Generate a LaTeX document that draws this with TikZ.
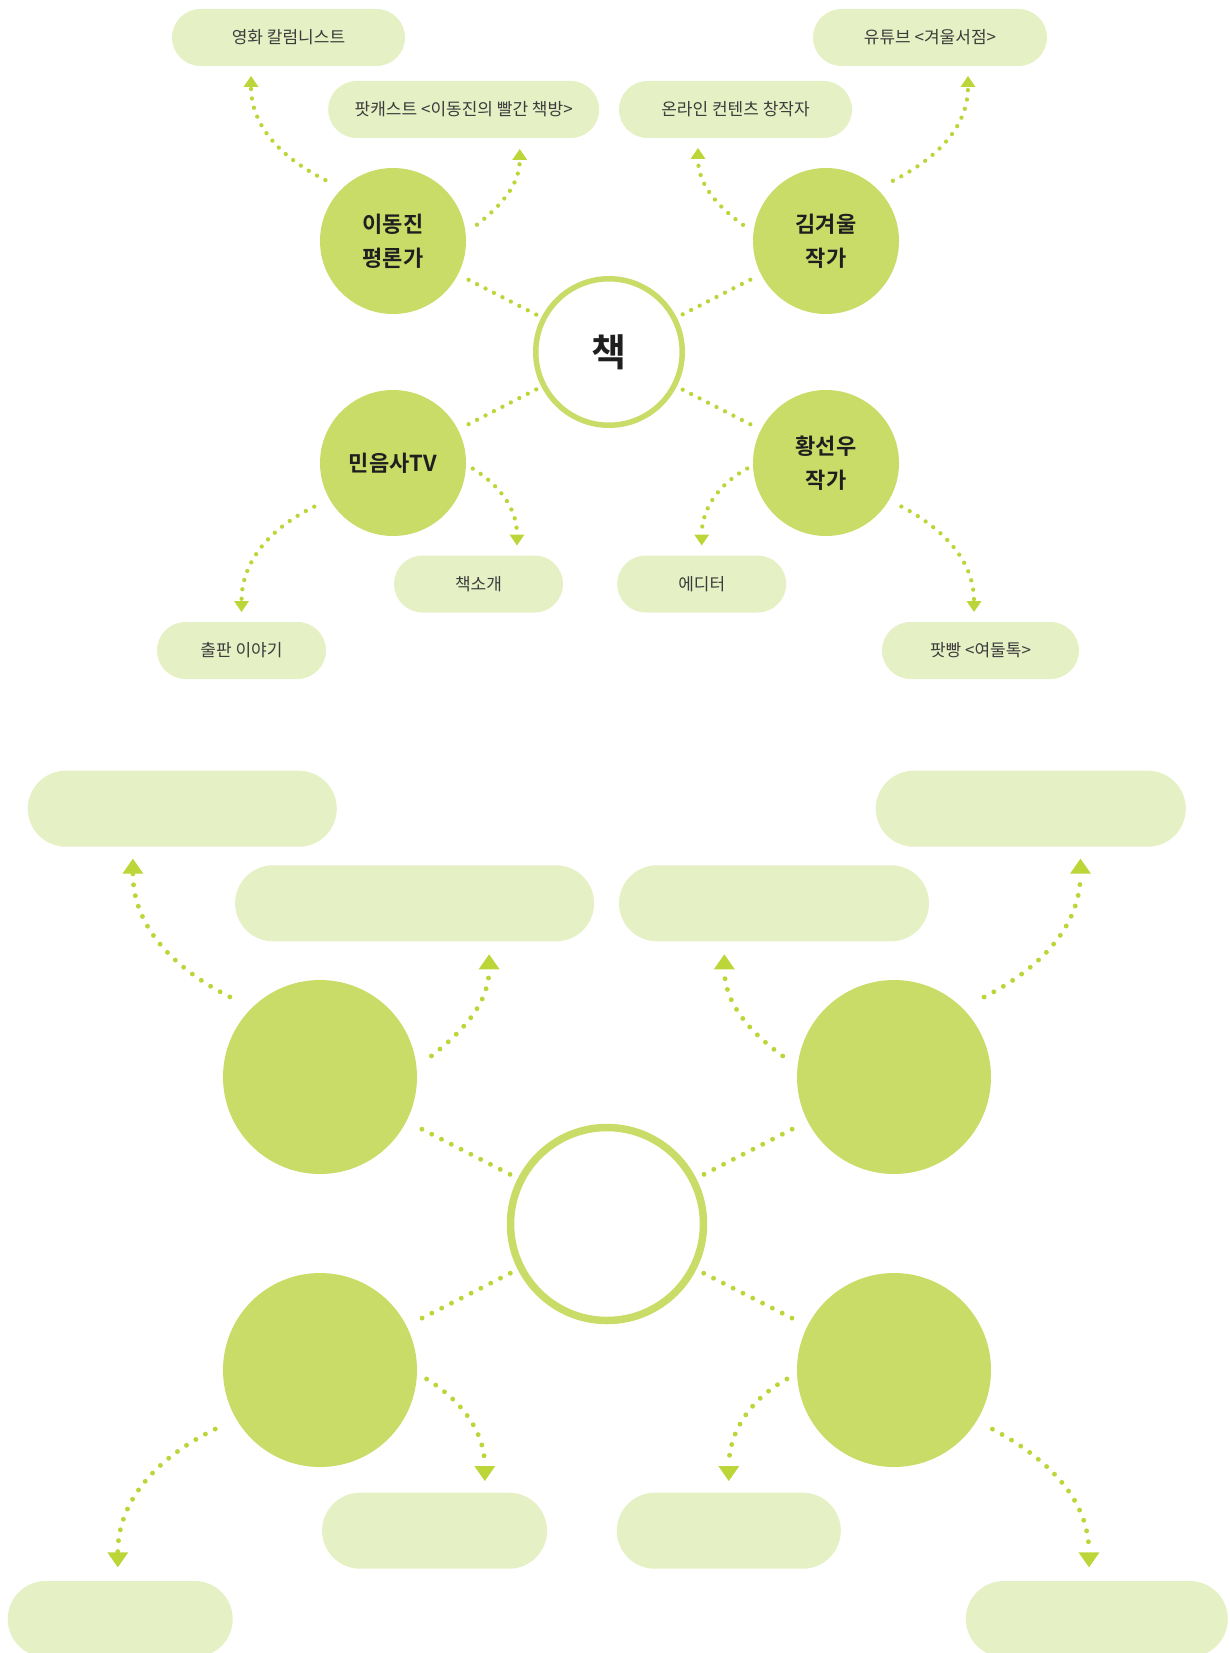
\documentclass[tikz,border=0pt]{standalone}
\usepackage{fontspec}
\setmainfont{Noto Sans CJK KR}[BoldFont={Noto Sans CJK KR Bold}]
\usetikzlibrary{arrows.meta,calc}
\definecolor{leaf}{HTML}{C9DC68}
\definecolor{paleleaf}{HTML}{E6F0C5}
\definecolor{dotgreen}{HTML}{BCD63A}
\definecolor{inkgray}{HTML}{3C3C3C}

\begin{document}
\begin{tikzpicture}[x=1pt,y=1pt,
  ring/.style={circle,draw=leaf,fill=white,line width=5.5pt,minimum size=146.5pt,inner sep=0pt,
    font=\fontsize{38}{40}\selectfont\bfseries,text=black!88},
  bigring/.style={ring,line width=7.5pt,minimum size=193pt},
  person/.style={circle,fill=leaf,minimum size=146pt,inner sep=0pt,outer sep=0pt,align=center,
    font=\fontsize{22}{34}\selectfont\bfseries,text=black!88},
  bigperson/.style={person,minimum size=194pt},
  job/.style={rectangle,fill=paleleaf,rounded corners=28.5pt,minimum height=57pt,inner sep=0pt,outer sep=0pt,
    font=\fontsize{17}{18}\selectfont,text=inkgray},
  bigjob/.style={job,rounded corners=38pt,minimum height=76pt},
  dotline/.style={draw=dotgreen,line width=4.3pt,line cap=round,dash pattern=on 0pt off 9.5pt},
  bigdotline/.style={dotline,line width=4.9pt,dash pattern=on 0pt off 11pt},
  headsmall/.style={-{Triangle[width=15pt,length=11pt,line width=0pt]}},
  headbig/.style={-{Triangle[width=21pt,length=15pt,line width=0pt]}}]

\useasboundingbox (0,0) rectangle (1229,-1653);

\node[ring] (book) at (609,-352) {책};
\node[person] (lee) at (393,-241) {이동진\\평론가};
\node[person] (kim) at (826,-241) {김겨울\\작가};
\node[person] (min) at (393,-463) {민음사TV};
\node[person] (hwang) at (826,-463) {황선우\\작가};

\node[job,minimum width=233pt] (film) at (288.5,-37.5) {영화 칼럼니스트};
\node[job,minimum width=271pt] (podcast) at (463.7,-109.5) {팟캐스트 <이동진의 빨간 책방>};
\node[job,minimum width=233pt] (online) at (735.5,-109.5) {온라인 컨텐츠 창작자};
\node[job,minimum width=234pt] (youtube) at (930,-37.5) {유튜브 <겨울서점>};
\node[job,minimum width=169pt] (intro) at (478.5,-584) {책소개};
\node[job,minimum width=169pt] (editor) at (701.7,-584) {에디터};
\node[job,minimum width=169pt] (publish) at (241.5,-650.5) {출판 이야기};
\node[job,minimum width=197pt] (podbbang) at (980.5,-650.5) {팟빵 <여둘톡>};

\foreach \n in {lee,kim,min,hwang} {\draw[dotline,shorten <=12pt,shorten >=4pt] (\n) -- (book);}

\draw[dotline,headsmall] ($(lee)+(138:91)$) to[out=153,in=-90] ($(film.south)+(-37.5,-10)$);
\draw[dotline,headsmall] ($(lee)+(11:85.5)$) to[out=38,in=-90] ($(podcast.south)+(56,-11)$);
\draw[dotline,headsmall] ($(kim)+(169:84.5)$) to[out=144,in=-90] ($(online.south)+(-37.5,-10)$);
\draw[dotline,headsmall] ($(kim)+(42:90)$) to[out=27,in=-90] ($(youtube.south)+(38,-10)$);
\draw[dotline,headsmall] ($(min)+(-4:80)$) to[out=-32,in=90] ($(intro.north)+(38.5,10)$);
\draw[dotline,headsmall] ($(min)+(209:90)$) to[out=206,in=90] ($(publish.north)+(0,10)$);
\draw[dotline,headsmall] ($(hwang)+(184:79)$) to[out=209,in=90] ($(editor.north)+(0,10)$);
\draw[dotline,headsmall] ($(hwang)+(-30:87)$) to[out=-28,in=90] ($(podbbang.north)+(-6.5,10)$);

\node[bigring] (hub) at (607,-1224) {};
\node[bigperson] (tl) at (320,-1077) {};
\node[bigperson] (tr) at (894,-1077) {};
\node[bigperson] (bl) at (320,-1370) {};
\node[bigperson] (br) at (894,-1370) {};

\node[bigjob,minimum width=309pt] (tla) at (182.3,-808.7) {};
\node[bigjob,minimum width=359pt] (tlb) at (414.6,-903.3) {};
\node[bigjob,minimum width=310pt] (trb) at (774,-903.3) {};
\node[bigjob,minimum width=310pt] (tra) at (1030.8,-808.7) {};
\node[bigjob,minimum width=225pt] (blb) at (434.6,-1530.7) {};
\node[bigjob,minimum width=224pt] (brb) at (728.8,-1530.7) {};
\node[bigjob,minimum width=225pt] (bla) at (120.2,-1619) {};
\node[bigjob,minimum width=262pt] (bra) at (1096.8,-1619) {};

\foreach \n in {tl,tr,bl,br} {\draw[bigdotline,shorten <=17.5pt,shorten >=6pt] (\n) -- (hub);}

\draw[bigdotline,headbig] ($(tl)+(138.4:120.6)$) to[out=153,in=-90] ($(tla.south)+(-49.4,-12)$);
\draw[bigdotline,headbig] ($(tl)+(10.7:113.4)$) to[out=38,in=-90] ($(tlb.south)+(74.5,-13)$);
\draw[bigdotline,headbig] ($(tr)+(169.3:113.3)$) to[out=144,in=-90] ($(trb.south)+(-49.7,-13)$);
\draw[bigdotline,headbig] ($(tr)+(41.6:120.5)$) to[out=27,in=-90] ($(tra.south)+(49.7,-12)$);
\draw[bigdotline,headbig] ($(bl)+(209.4:120.3)$) to[out=206,in=90] ($(bla.north)+(-2.4,13.7)$);
\draw[bigdotline,headbig] ($(bl)+(-4.8:107)$) to[out=-32,in=90] ($(blb.north)+(50.2,11.7)$);
\draw[bigdotline,headbig] ($(br)+(184.8:107.5)$) to[out=209,in=90] ($(brb.north)+(0,11.7)$);
\draw[bigdotline,headbig] ($(br)+(-31:114.8)$) to[out=-28,in=90] ($(bra.north)+(-7.8,13.7)$);

\end{tikzpicture}
\end{document}
